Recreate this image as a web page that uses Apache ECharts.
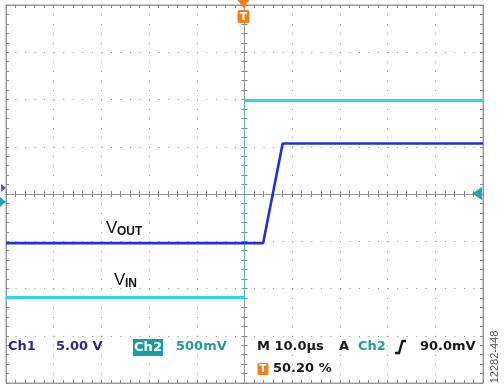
<!DOCTYPE html>
<html>
<head>
<meta charset="utf-8">
<script src="https://cdn.jsdelivr.net/npm/echarts@6/dist/echarts.min.js"></script>
<style>
html,body{margin:0;padding:0;background:#fff;}
#c{width:504px;height:388px;}
</style>
</head>
<body>
<div id="c"></div>
<script>
// Time axis in microseconds (10 µs/div), vertical values in screen divisions
var timeRange = [-50, 50];
var divRange = [-4, 4];

// Ch2 (VIN) trace
var vinTime = [-50, 0, 0, 50];
var vinDiv = [-2.19, -2.19, 1.98, 1.98];

// Ch1 (VOUT) trace
var voutTime = [-50, 3.9, 8.0, 50];
var voutDiv = [-1.04, -1.04, 1.07, 1.07];

// Readout texts
var ch1Label = 'Ch1';
var ch1Scale = '5.00 V';
var ch2Label = 'Ch2';
var ch2Scale = '500mV';
var timeScale = 'M 10.0µs';
var trigMode = 'A';
var trigSource = 'Ch2';
var trigLevel = '90.0mV';
var trigPos = '50.20 %';
var figId = '12282-448';

function pairs(xs, ys, a, b) {
  var out = [];
  for (var i = a; i <= b; i++) out.push([xs[i], ys[i]]);
  return out;
}

var gridColor = '#8a8a8a';
var FONT = '"DejaVu Sans", sans-serif';

function xAx(pos, onZero, split) {
  return {
    type: 'value', min: timeRange[0], max: timeRange[1], interval: 10, position: pos,
    axisLine: { show: true, onZero: onZero, onZeroAxisIndex: 0, lineStyle: { color: '#9a9a9a', width: 1 } },
    axisTick: { show: true, inside: true, length: 3, lineStyle: { color: '#888' } },
    minorTick: { show: true, splitNumber: 5, length: 3, lineStyle: { color: '#888' } },
    axisLabel: { show: false },
    splitLine: { show: split, lineStyle: { color: gridColor, width: 1, type: [1, 8.45] } },
    minorSplitLine: { show: false }
  };
}
function yAx(pos, onZero, split) {
  return {
    type: 'value', min: divRange[0], max: divRange[1], interval: 1, position: pos,
    axisLine: { show: true, onZero: onZero, onZeroAxisIndex: 0, lineStyle: { color: '#9a9a9a', width: 1 } },
    axisTick: { show: true, inside: true, length: 3, lineStyle: { color: '#888' } },
    minorTick: { show: true, splitNumber: 5, length: 3, lineStyle: { color: '#888' } },
    axisLabel: { show: false },
    splitLine: { show: split, lineStyle: { color: gridColor, width: 1, type: [1, 8.54] } },
    minorSplitLine: { show: false }
  };
}

var chart = echarts.init(document.getElementById('c'), null, { renderer: 'canvas' });
var txt = function (x, y, s, color, size, weight, extra) {
  var st = { text: s, fill: color, font: (weight || 'bold') + ' ' + size + 'px ' + FONT, verticalAlign: 'middle', align: 'left' };
  if (extra) for (var k in extra) st[k] = extra[k];
  return { type: 'text', x: x, y: y, z: 100, style: st };
};

function lineSeries(name, data, color, width, z) {
  return {
    name: name, type: 'line', xAxisIndex: 0, yAxisIndex: 0, showSymbol: false, symbol: 'none',
    data: data, lineStyle: { color: color, width: width }, z: z
  };
}

chart.setOption({
  animation: false,
  backgroundColor: '#ffffff',
  grid: { left: 6, top: 5, width: 477, height: 378, show: true, borderColor: '#9a9a9a', borderWidth: 1, backgroundColor: 'transparent' },
  xAxis: [xAx('bottom', false, true), xAx('top', false, false), xAx('bottom', true, false), xAx('top', true, false)],
  yAxis: [yAx('left', false, true), yAx('right', false, false), yAx('left', true, false), yAx('right', true, false)],
  series: [
    // VIN: flat parts drawn thick, the fast edge drawn faint like the scope's sparse samples
    lineSeries('VIN', pairs(vinTime, vinDiv, 0, 1), '#2cd8e4', 3, 3),
    lineSeries('VIN edge', pairs(vinTime, vinDiv, 1, 2), 'rgba(44,216,228,0.55)', 1.2, 3),
    lineSeries('VIN ', pairs(vinTime, vinDiv, 2, 3), '#2cd8e4', 3, 3),
    lineSeries('VOUT', pairs(voutTime, voutDiv, 0, 3), '#2430d6', 2.6, 4)
  ],
  graphic: [
    // trace labels
    txt(106, 228, 'V', '#111', 17, 'normal', { font: '17px "Liberation Sans", Arial, sans-serif' }),
    txt(117, 232, 'OUT', '#111', 12, 'bold', { font: 'bold 12px "Liberation Sans", Arial, sans-serif' }),
    txt(114, 280, 'V', '#111', 17, 'normal', { font: '17px "Liberation Sans", Arial, sans-serif' }),
    txt(125, 284, 'IN', '#111', 12, 'bold', { font: 'bold 12px "Liberation Sans", Arial, sans-serif' }),
    // trigger marker at top
    { type: 'polygon', z: 100, shape: { points: [[237.5, 0], [249.5, 0], [243.5, 8]] }, style: { fill: '#f07f1e' } },
    { type: 'rect', z: 100, shape: { x: 237.5, y: 10, width: 12, height: 13, r: 2 }, style: { fill: '#f07f1e' } },
    txt(243.5, 16.8, 'T', '#ffffff', 11, 'bold', { align: 'center' }),
    // left ground markers and right trigger level marker
    { type: 'polygon', z: 100, shape: { points: [[1, 184], [6, 188], [1, 192]] }, style: { fill: '#6a4fc0' } },
    { type: 'polygon', z: 100, shape: { points: [[0, 197], [6, 202], [0, 207]] }, style: { fill: '#20a8a8' } },
    { type: 'polygon', z: 100, shape: { points: [[472, 193.5], [482, 187], [482, 200]] }, style: { fill: '#1fa9a9' } },
    // readouts
    txt(8, 347, ch1Label, '#2a2a86', 13),
    txt(56, 347, ch1Scale, '#2a2a86', 13),
    { type: 'rect', z: 100, shape: { x: 133, y: 339, width: 30, height: 17 }, style: { fill: '#1f9d9d' } },
    txt(148, 347.5, ch2Label, '#ffffff', 13, 'bold', { align: 'center' }),
    txt(176, 347, ch2Scale, '#1f9d9d', 13),
    txt(257, 347, timeScale, '#1a1a1a', 13),
    txt(339, 347, trigMode, '#1a1a1a', 13),
    txt(358, 347, trigSource, '#1f9d9d', 13),
    { type: 'polyline', z: 100, shape: { points: [[395, 353], [399, 353], [402.5, 341], [406, 341]] }, style: { stroke: '#1a1a1a', lineWidth: 2.4, fill: null } },
    txt(420, 347, trigLevel, '#1a1a1a', 13),
    { type: 'rect', z: 100, shape: { x: 257.5, y: 363, width: 11, height: 12, r: 1.5 }, style: { fill: '#f07f1e' } },
    txt(263, 369.5, 'T', '#ffffff', 10, 'bold', { align: 'center' }),
    txt(273, 369, trigPos, '#1a1a1a', 13),
    // figure id, rotated
    { type: 'text', z: 100, x: 495, y: 357, rotation: Math.PI / 2,
      style: { text: figId, fill: '#555', font: '11px "Liberation Sans", Arial, sans-serif', align: 'center', verticalAlign: 'middle' } }
  ]
});
</script>
</body>
</html>
